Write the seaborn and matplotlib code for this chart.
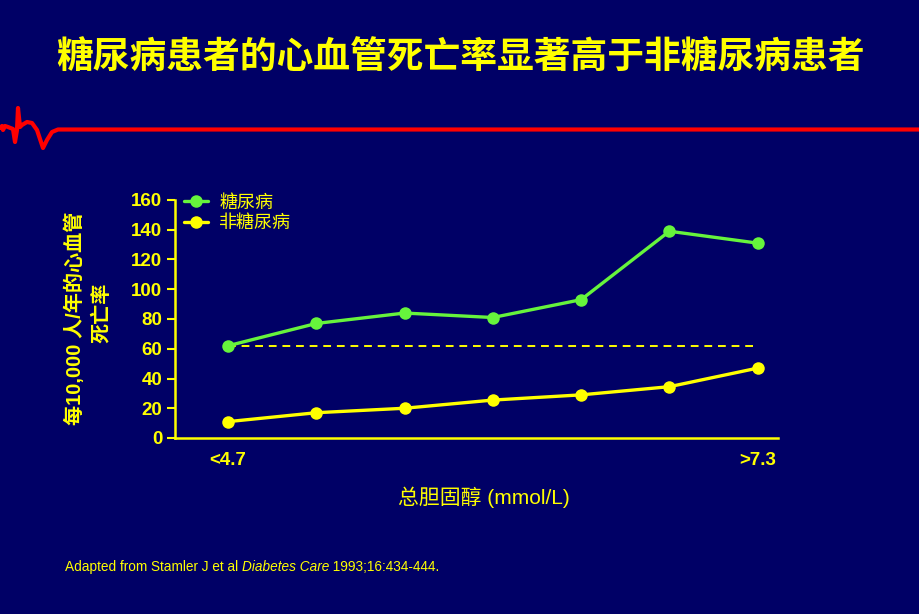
import matplotlib
matplotlib.use("Agg")
import matplotlib.pyplot as plt
import seaborn as sns
import pandas as pd
from matplotlib.lines import Line2D

# ---- data ----
categories = ["<4.7", "", "", "", "", "", ">7.3"]
diabetic = [62, 77, 84, 81, 93, 139, 131]
non_diabetic = [11, 17, 20, 25.5, 29, 34.5, 47]
reference_level = 62
series_names = ["糖尿病", "非糖尿病"]
yticks = [0, 20, 40, 60, 80, 100, 120, 140, 160]

sns.set_theme(style="white")
BG = "#000066"
YEL = "#FFFF00"
GRN = "#66F43C"
plt.rcParams['font.family'] = ['Liberation Sans', 'Noto Sans CJK SC', 'DejaVu Sans']

rows = []
for i, (d, n) in enumerate(zip(diabetic, non_diabetic)):
    rows.append({"x": i, "y": d, "group": series_names[0]})
    rows.append({"x": i, "y": n, "group": series_names[1]})
df = pd.DataFrame(rows)

fig = plt.figure(figsize=(9.2, 6.14), dpi=100, facecolor=BG)
ax = fig.add_axes([175/920, 1-438/614, (778-175)/920, (438-200)/614])
ax.set_facecolor(BG)

sns.lineplot(data=df, x="x", y="y", hue="group", palette=[GRN, YEL],
             marker="o", markersize=9, markeredgewidth=0, linewidth=2.4,
             ax=ax, legend=False)
ax.plot([0, len(categories) - 1], [reference_level, reference_level],
        linestyle=(0, (4, 3)), color=YEL, linewidth=1.4, zorder=1)

ax.set_xlim(-0.6, 6.23)
ax.set_ylim(0, 160)
ax.set_yticks(yticks)
ax.set_yticklabels([str(t) for t in yticks], color=YEL, fontsize=13.5,
                   fontweight="bold", family=['Liberation Sans'])
ax.set_xticks(range(len(categories)))
ax.set_xticklabels(categories, color=YEL, fontsize=13.5, fontweight="bold",
                   family=['Liberation Sans'])
ax.tick_params(axis="y", direction="out", length=6, width=1.5, color=YEL, pad=3, left=True)
ax.tick_params(axis="x", length=0, pad=10)
for s in ["top", "right"]:
    ax.spines[s].set_visible(False)
for s in ["left", "bottom"]:
    ax.spines[s].set_color(YEL)
    ax.spines[s].set_linewidth(1.8)
ax.set_xlabel("")
ax.set_ylabel("")

handles = [Line2D([], [], color=GRN, marker="o", markersize=9, markeredgewidth=0, linewidth=2.4),
           Line2D([], [], color=YEL, marker="o", markersize=9, markeredgewidth=0, linewidth=2.4)]
leg = ax.legend(handles, series_names, loc="upper left", bbox_to_anchor=(-0.012, 1.095),
                frameon=False, handlelength=1.35, handletextpad=0.6,
                labelspacing=0.15, prop={'family': ['Noto Sans CJK SC'], 'size': 13})
for t in leg.get_texts():
    t.set_color(YEL)

# axis labels
fig.text(484/920, 1-497/614, "总胆固醇 (mmol/L)", color=YEL, fontsize=15,
         ha="center", va="center", family=['Liberation Sans', 'Noto Sans CJK SC'],
         fontweight="medium")
fig.text(75/920, 1-318/614, "每10,000 人/年的心血管", color=YEL, fontsize=14.5,
         rotation=90, ha="center", va="center",
         family=['Liberation Sans', 'Noto Sans CJK SC'], fontweight="bold")
fig.text(101/920, 1-313/614, "死亡率", color=YEL, fontsize=14.5,
         rotation=90, ha="center", va="center", family=['Noto Sans CJK SC'], fontweight="bold")

# title
fig.text(460/920, 1-57/614, "糖尿病患者的心血管死亡率显著高于非糖尿病患者", color=YEL,
         fontsize=26.5, fontweight="bold", ha="center", va="center",
         family=['Noto Sans CJK SC'])

# decorative red ECG line
ex = [0, 2, 3, 5, 8, 13, 15, 17, 18, 20, 22, 27, 32, 37, 43, 47, 52, 58, 80, 920]
ey = [128, 126, 130, 126, 127, 129, 142, 130, 108, 127, 125, 122, 123, 130, 148, 140, 132, 129.5, 129.5, 129.5]
fig.add_artist(Line2D([x/920 for x in ex], [1-y/614 for y in ey], color="#FF0000",
                      linewidth=3, transform=fig.transFigure, solid_joinstyle="round"))

# footnote with italic part
fig.canvas.draw()
r = fig.canvas.get_renderer()
x0 = 65/920
yb = 1-571/614
parts = [("Adapted from Stamler J et al ", "normal"), ("Diabetes Care", "italic"),
         (" 1993;16:434-444.", "normal")]
for txt, style in parts:
    t = fig.text(x0, yb, txt, color=YEL, fontsize=9.8, style=style, ha="left", va="baseline",
                 family=['Liberation Sans'])
    bb = t.get_window_extent(renderer=r)
    x0 += bb.width / fig.bbox.width

fig.savefig("out.png", dpi=100, facecolor=BG)
